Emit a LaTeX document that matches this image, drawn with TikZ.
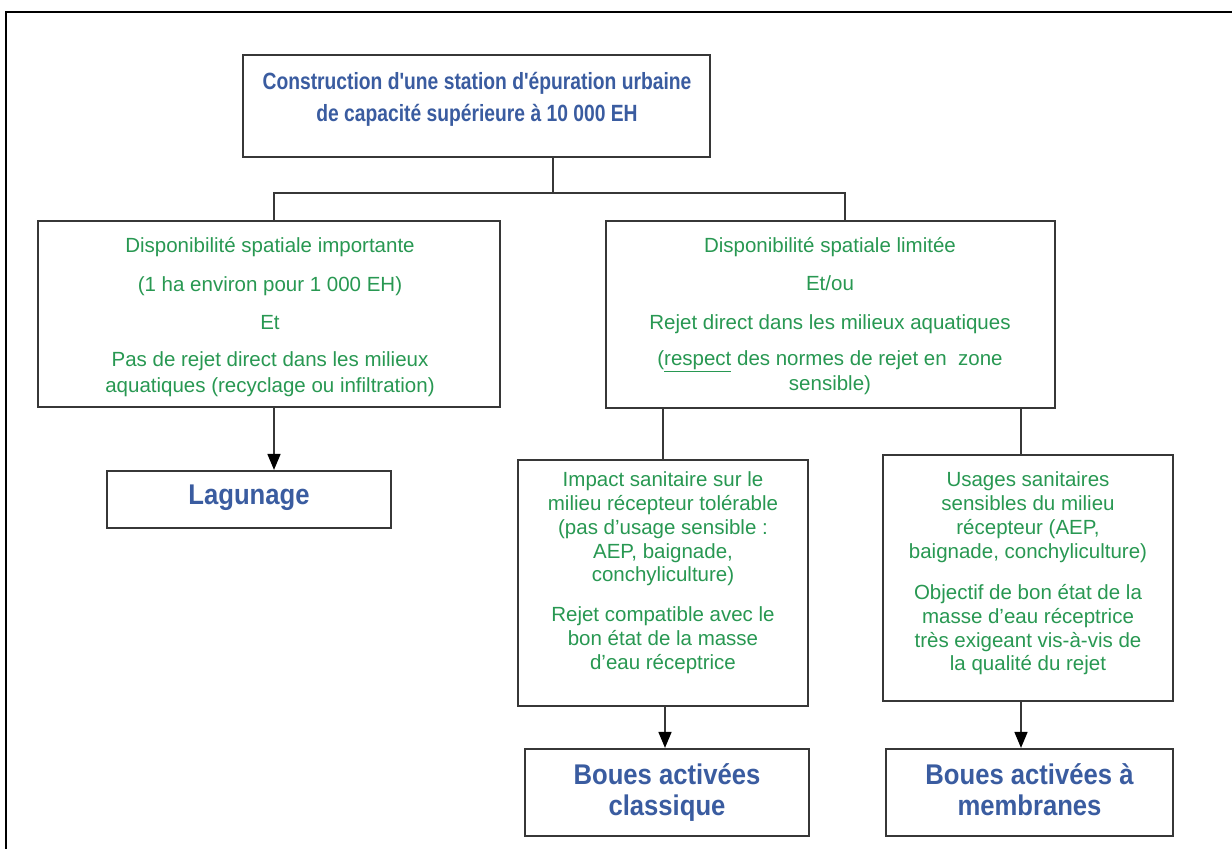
\documentclass[tikz,border=0pt]{standalone}
\usepackage{fontspec}
\setmainfont{Liberation Sans}
\newfontfamily\titlefont[FakeStretch=0.82]{Liberation Sans Bold}
\newfontfamily\resfont[FakeStretch=0.9]{Liberation Sans Bold}
\usetikzlibrary{arrows.meta}
\definecolor{tblue}{RGB}{58,92,160}
\definecolor{tgreen}{RGB}{40,152,82}
\definecolor{lgray}{RGB}{55,55,55}
\begin{document}
\begin{tikzpicture}[x=1pt,y=-1pt,
  box/.style={draw=lgray,line width=2.2pt,inner sep=0pt,fill=white},
  conn/.style={draw=lgray,line width=1.6pt},
  arr/.style={conn,-{Triangle[length=16pt,width=13pt,color=black]}},
  gline/.style={text=tgreen,font=\fontsize{20.5}{24}\selectfont,anchor=mid,inner sep=0pt,yshift=-7pt},
  tline/.style={text=tblue,font=\titlefont\fontsize{23.5}{28}\selectfont,anchor=mid,inner sep=0pt,yshift=-7pt},
  rline/.style={text=tblue,font=\resfont\fontsize{28.5}{32}\selectfont,anchor=mid,inner sep=0pt,yshift=-7pt}]
\useasboundingbox (0,0) rectangle (1232,849);
\fill[white] (0,0) rectangle (1232,849);
% outer frame
\draw[line width=2pt,black] (6,849) -- (6,12) -- (1232,12);

% boxes
\node[box,minimum width=467pt,minimum height=102pt] (top) at (476.5,106) {};
\node[box,minimum width=462pt,minimum height=186pt] (lbox) at (269,314) {};
\node[box,minimum width=449pt,minimum height=187pt] (rbox) at (830.5,314.5) {};
\node[box,minimum width=284pt,minimum height=57pt] (lag) at (249,499.5) {};
\node[box,minimum width=290pt,minimum height=246pt] (mlbox) at (663,583) {};
\node[box,minimum width=290pt,minimum height=246pt] (mrbox) at (1028,578) {};
\node[box,minimum width=284pt,minimum height=87pt] (blbox) at (667,792.5) {};
\node[box,minimum width=287pt,minimum height=87pt] (brbox) at (1029.5,792.5) {};

% connectors
\coordinate (j) at (553,193);
\coordinate (jl) at (274,193);
\coordinate (jr) at (845,193);
\coordinate (dl) at (663,0);
\coordinate (dr) at (1021,0);
\coordinate (al) at (665,0);
\draw[conn] (top.south -| j) -- (j);
\draw[conn] (jl |- lbox.north) -- (jl) -- (jr) -- (jr |- rbox.north);
\draw[arr] (jl |- lbox.south) -- (jl |- lag.north);
\draw[conn] (dl |- rbox.south) -- (dl |- mlbox.north);
\draw[conn] (dr |- rbox.south) -- (dr |- mrbox.north);
\draw[arr] (al |- mlbox.south) -- (al |- blbox.north);
\draw[arr] (dr |- mrbox.south) -- (dr |- brbox.north);

% title
\node[tline] (t1) at (477,80) {Construction d'une station d'épuration urbaine};
\node[tline] (t2) at (477,112) {de capacité supérieure à 10 000 EH};

% left box text
\node[gline] (l1) at (270,243) {Disponibilité spatiale importante};
\node[gline] (l2) at (270,282) {(1 ha environ pour 1 000 EH)};
\node[gline] (l3) at (270,320) {Et};
\node[gline] (l4) at (270,357) {Pas de rejet direct dans les milieux};
\node[gline] (l5) at (270,383) {aquatiques (recyclage ou infiltration)};

% right box text
\node[gline] (r1) at (830,243) {Disponibilité spatiale limitée};
\node[gline] (r2) at (830,281) {Et/ou};
\node[gline] (r3) at (830,320) {Rejet direct dans les milieux aquatiques};
\node[gline] (r4) at (830,356) {(\underline{respect} des normes de rejet en\ \ zone};
\node[gline] (r5) at (830,381) {sensible)};

% lagunage
\node[rline] (lagt) at (249,495) {Lagunage};

% middle left text
\node[gline] (m1) at (663,477) {Impact sanitaire sur le};
\node[gline] (m2) at (663,501) {milieu récepteur tolérable};
\node[gline] (m3) at (663,525) {(pas d'usage sensible :};
\node[gline] (m4) at (663,549) {AEP, baignade,};
\node[gline] (m5) at (663,572) {conchyliculture)};
\node[gline] (m6) at (663,612) {Rejet compatible avec le};
\node[gline] (m7) at (663,636) {bon état de la masse};
\node[gline] (m8) at (663,660) {d'eau réceptrice};

% middle right text
\node[gline] (n1) at (1028,477) {Usages sanitaires};
\node[gline] (n2) at (1028,501) {sensibles du milieu};
\node[gline] (n3) at (1028,525) {récepteur (AEP,};
\node[gline] (n4) at (1028,549) {baignade, conchyliculture)};
\node[gline] (n5) at (1028,590) {Objectif de bon état de la};
\node[gline] (n6) at (1028,614) {masse d'eau réceptrice};
\node[gline] (n7) at (1028,638) {très exigeant vis-à-vis de};
\node[gline] (n8) at (1028,661) {la qualité du rejet};

% bottom boxes text
\node[rline] (b1) at (667,775) {Boues activées};
\node[rline] (b2) at (667,806) {classique};
\node[rline] (c1) at (1029.5,775) {Boues activées à};
\node[rline] (c2) at (1029.5,806) {membranes};
\end{tikzpicture}
\end{document}
